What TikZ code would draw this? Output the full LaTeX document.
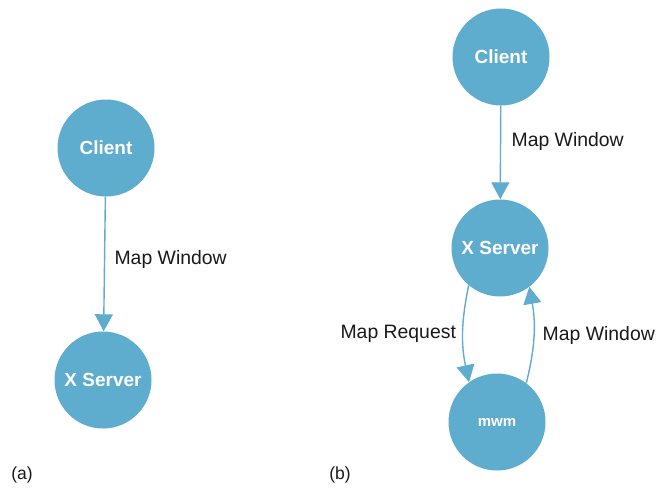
\documentclass[tikz,border=0pt]{standalone}
\usepackage{fontspec}
\setmainfont{Liberation Sans}
\usetikzlibrary{arrows.meta}
\usetikzlibrary{positioning}
\definecolor{discblue}{RGB}{94,172,206}
\tikzstyle{vertex}=[circle,fill=discblue,draw=none,minimum size=97pt,inner sep=0pt,text=white,font=\fontsize{19}{21}\selectfont\bfseries]
\tikzstyle{edge} = [draw,discblue,line width=1.4pt,-{Triangle[width=18pt,length=17pt]}]
\tikzstyle{weight} = [font=\fontsize{19.4}{21}\selectfont,text=black!90]
\tikzstyle{caption} = [font=\fontsize{17.5}{19}\selectfont,text=black!90]

\begin{document}
\begin{tikzpicture}[x=1pt,y=-1pt]
    \useasboundingbox (0,0) rectangle (666,487);

%(a)
    \foreach \pos/\name/\lbl in {{(106,148)/cA/Client}, {(103,380)/sA/X Server}}
        \node[vertex] (\name) at \pos {\lbl};
    \path[edge] (cA) -- node[weight,right=6pt,pos=0.47] {Map Window} (sA);

%(b)
    \foreach \pos/\name/\lbl in {{(501,57)/cB/Client}, {(500,248)/sB/X Server}}
        \node[vertex] (\name) at \pos {\lbl};
    \node[vertex,font=\fontsize{15}{17}\selectfont\bfseries] (mB) at (497,422) {mwm};

    \path[edge] (cB) -- node[weight,right=7pt,pos=0.38] {Map Window} (sB);
    \path[edge] (sB.230) to[bend right=12] node[weight,left=3pt] {Map Request} (mB.125);
    \path[edge] (mB.53) to[bend right=12] node[weight,right=5pt] {Map Window} (sB.307);

% Label
    \node[caption] (capA) at (22,475) {(a)};
    \node[caption] (capB) at (340,475) {(b)};
\end{tikzpicture}
\end{document}
